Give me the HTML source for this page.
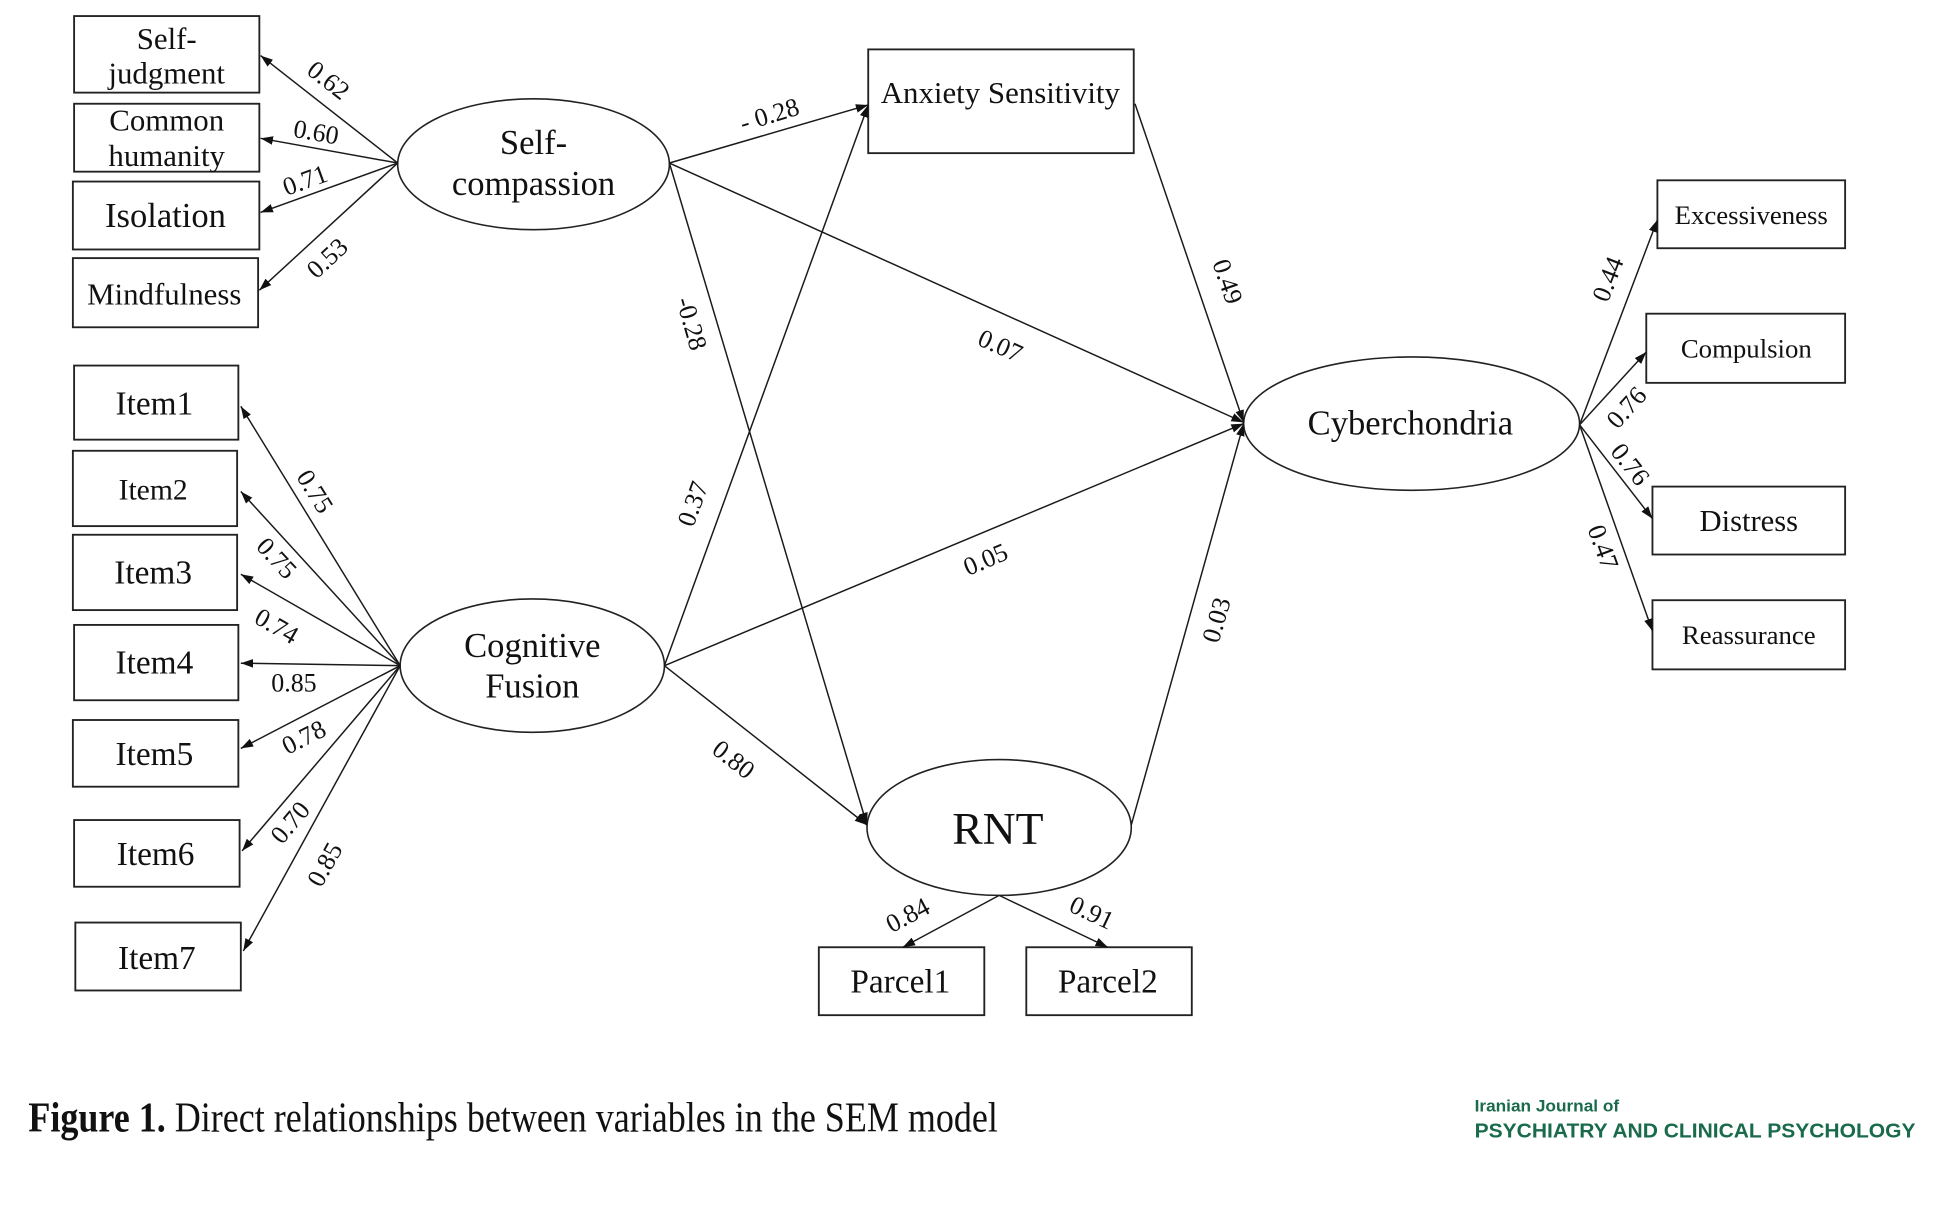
<!DOCTYPE html>
<html><head><meta charset="utf-8"><style>
html,body{margin:0;padding:0;background:#fff;}
svg{display:block;}
text{font-family:"Liberation Serif","Times New Roman",serif;fill:#111;}
.n{dominant-baseline:central;text-anchor:middle;}
.l{dominant-baseline:central;text-anchor:middle;font-size:21px;}
</style></head><body>
<svg width="1937" height="1225" viewBox="0 0 1568.4 991.9" preserveAspectRatio="none" xmlns="http://www.w3.org/2000/svg">
<defs>
<marker id="a" markerWidth="10" markerHeight="8" refX="10" refY="4" orient="auto" markerUnits="userSpaceOnUse"><path d="M0,0.5 L10,4 L0,7.5 z" fill="#111"/></marker>
</defs>
<rect width="1568.4" height="991.9" fill="#fff"/>
<g stroke="#222" stroke-width="1.5" fill="#fff">
<rect x="60" y="13" width="150" height="62"/>
<rect x="60" y="84" width="150" height="55"/>
<rect x="59" y="147" width="151" height="55"/>
<rect x="59" y="209" width="150" height="56"/>
<rect x="60" y="296" width="133" height="60"/>
<rect x="59" y="365" width="133" height="61"/>
<rect x="59" y="433" width="133" height="61"/>
<rect x="60" y="506" width="133" height="61"/>
<rect x="59" y="583" width="134" height="54"/>
<rect x="60" y="664" width="134" height="54"/>
<rect x="61" y="747" width="134" height="55"/>
<rect x="703" y="40" width="215" height="84"/>
<rect x="1342" y="146" width="152" height="55"/>
<rect x="1333" y="254" width="161" height="56"/>
<rect x="1338" y="394" width="156" height="55"/>
<rect x="1338" y="486" width="156" height="56"/>
<rect x="663" y="767" width="134" height="55"/>
<rect x="831" y="767" width="134" height="55"/>
</g>
<g stroke="#222" stroke-width="1.3" fill="none">
<ellipse cx="432" cy="133" rx="110" ry="53"/>
<ellipse cx="431" cy="539" rx="107" ry="54"/>
<ellipse cx="1143" cy="343" rx="136" ry="54"/>
<ellipse cx="809" cy="670" rx="107" ry="55"/>
</g>
<g stroke="#1a1a1a" stroke-width="1.2" fill="none" marker-end="url(#a)">
<line x1="322" y1="132" x2="211" y2="45"/>
<line x1="322" y1="132" x2="211" y2="112"/>
<line x1="322" y1="132" x2="211" y2="172"/>
<line x1="322" y1="132" x2="210" y2="235"/>
<line x1="542" y1="132" x2="703" y2="85"/>
<line x1="542" y1="132" x2="1007" y2="342"/>
<line x1="542" y1="132" x2="702" y2="668"/>
<line x1="324" y1="539" x2="195" y2="329"/>
<line x1="324" y1="539" x2="195" y2="398"/>
<line x1="324" y1="539" x2="195" y2="465"/>
<line x1="324" y1="539" x2="195" y2="537"/>
<line x1="324" y1="539" x2="195" y2="606"/>
<line x1="324" y1="539" x2="196" y2="689"/>
<line x1="324" y1="539" x2="197" y2="770"/>
<line x1="538" y1="539" x2="703" y2="85"/>
<line x1="538" y1="539" x2="1007" y2="343"/>
<line x1="538" y1="539" x2="702" y2="668"/>
<line x1="919" y1="84" x2="1007" y2="342"/>
<line x1="916" y1="668" x2="1007" y2="343"/>
<line x1="809" y1="725" x2="731" y2="767"/>
<line x1="809" y1="725" x2="897" y2="767"/>
<line x1="1279" y1="344" x2="1342" y2="178"/>
<line x1="1279" y1="344" x2="1333" y2="285"/>
<line x1="1279" y1="344" x2="1338" y2="420"/>
<line x1="1279" y1="344" x2="1338" y2="511"/>
</g>
<g class="nodes">
<text class="n" x="135" y="31" font-size="25">Self-</text>
<text class="n" x="135" y="59" font-size="25">judgment</text>
<text class="n" x="135" y="97" font-size="25">Common</text>
<text class="n" x="135" y="126" font-size="25">humanity</text>
<text class="n" x="134" y="175" font-size="28">Isolation</text>
<text class="n" x="133" y="238" font-size="25">Mindfulness</text>
<text class="n" x="432" y="116" font-size="28">Self-</text>
<text class="n" x="432" y="149" font-size="28">compassion</text>
<text class="n" x="431" y="523" font-size="28">Cognitive</text>
<text class="n" x="431" y="556" font-size="28">Fusion</text>
<text class="n" x="810" y="75" font-size="25">Anxiety Sensitivity</text>
<text class="n" x="1142" y="343" font-size="28">Cyberchondria</text>
<text class="n" x="808" y="671" font-size="37">RNT</text>
<text class="n" x="125" y="327" font-size="27">Item1</text>
<text class="n" x="124" y="397" font-size="24">Item2</text>
<text class="n" x="124" y="464" font-size="27">Item3</text>
<text class="n" x="125" y="537" font-size="27">Item4</text>
<text class="n" x="125" y="611" font-size="27">Item5</text>
<text class="n" x="126" y="692" font-size="27">Item6</text>
<text class="n" x="127" y="776" font-size="27">Item7</text>
<text class="n" x="1418" y="174" font-size="21.7">Excessiveness</text>
<text class="n" x="1414" y="282" font-size="21.7">Compulsion</text>
<text class="n" x="1416" y="422" font-size="24.8">Distress</text>
<text class="n" x="1416" y="514" font-size="21.7">Reassurance</text>
<text class="n" x="729" y="795" font-size="27">Parcel1</text>
<text class="n" x="897" y="795" font-size="27">Parcel2</text>
</g>
<g>
<text class="l" transform="translate(266,65) rotate(38)">0.62</text>
<text class="l" transform="translate(256,107) rotate(10)">0.60</text>
<text class="l" transform="translate(247,146) rotate(-20)">0.71</text>
<text class="l" transform="translate(265,209) rotate(-43)">0.53</text>
<text class="l" transform="translate(623,93) rotate(-17)">- 0.28</text>
<text class="l" transform="translate(560,262) rotate(74)">-0.28</text>
<text class="l" transform="translate(810,280) rotate(24)">0.07</text>
<text class="l" transform="translate(994,228) rotate(71)">0.49</text>
<text class="l" transform="translate(561,408) rotate(-70)">0.37</text>
<text class="l" transform="translate(798,453) rotate(-23)">0.05</text>
<text class="l" transform="translate(985,502) rotate(-74)">0.03</text>
<text class="l" transform="translate(594,615) rotate(38)">0.80</text>
<text class="l" transform="translate(735,741) rotate(-28)">0.84</text>
<text class="l" transform="translate(884,739) rotate(25)">0.91</text>
<text class="l" transform="translate(255,398) rotate(58)">0.75</text>
<text class="l" transform="translate(224,452) rotate(47)">0.75</text>
<text class="l" transform="translate(224,507) rotate(30)">0.74</text>
<text class="l" transform="translate(238,553)">0.85</text>
<text class="l" transform="translate(246,597) rotate(-27)">0.78</text>
<text class="l" transform="translate(235,666) rotate(-50)">0.70</text>
<text class="l" transform="translate(263,700) rotate(-61)">0.85</text>
<text class="l" transform="translate(1302,226) rotate(-69)">0.44</text>
<text class="l" transform="translate(1317,330) rotate(-48)">0.76</text>
<text class="l" transform="translate(1320,376) rotate(52)">0.76</text>
<text class="l" transform="translate(1298,443) rotate(70)">0.47</text>
</g>
<text x="23" y="916" font-size="34" textLength="785" lengthAdjust="spacingAndGlyphs"><tspan font-weight="bold">Figure 1.</tspan> Direct relationships between variables in the SEM model</text>
<text x="1194" y="900" font-size="13.5" font-weight="bold" textLength="117" lengthAdjust="spacingAndGlyphs" style="font-family:'Liberation Sans',sans-serif;fill:#1a6b4c;">Iranian Journal of</text>
<text x="1194" y="921" font-size="16.5" font-weight="bold" textLength="357" lengthAdjust="spacingAndGlyphs" style="font-family:'Liberation Sans',sans-serif;fill:#1a6b4c;">PSYCHIATRY AND CLINICAL PSYCHOLOGY</text>
</svg>
</body></html>
